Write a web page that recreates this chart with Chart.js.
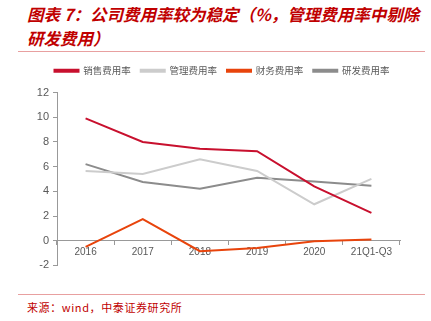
<!DOCTYPE html>
<html>
<head>
<meta charset="utf-8">
<script src="https://cdn.jsdelivr.net/npm/chart.js@4"></script>
<style>
  body { margin: 0; width: 431px; height: 321px; background: #fff; position: relative; overflow: hidden; }
  .title { position: absolute; left: 27px; top: 2px; width: 404px; white-space: nowrap; font-family: "Noto Sans CJK SC", sans-serif; font-style: italic; font-weight: bold; font-size: 16.5px; line-height: 24px; color: #c00000; }
  .rule { position: absolute; left: 18px; width: 407px; height: 1px; background: #e8a0a0; }
  .source { position: absolute; left: 27px; top: 299px; letter-spacing: 0.6px; font-family: "Noto Sans CJK SC", sans-serif; font-size: 11px; color: #c00000; }
  #wrap { position: absolute; left: 0; top: 56px; width: 431px; height: 220px; }
</style>
</head>
<body>
<div class="title">图表 7：公司费用率较为稳定（%，管理费用率中剔除<br>研发费用）</div>
<div class="rule" style="top:51px"></div>
<div id="wrap"><canvas id="chart"></canvas></div>
<div class="rule" style="top:294px"></div>
<div class="source">来源：wind，中泰证券研究所</div>
<script>
const categories = ["2016", "2017", "2018", "2019", "2020", "21Q1-Q3"];
const salesRate = [9.9, 8.0, 7.45, 7.25, 4.4, 2.25];
const adminRate = [5.65, 5.4, 6.6, 5.65, 2.95, 5.0];
const financeRate = [-0.5, 1.75, -0.85, -0.6, -0.05, 0.1];
const rdRate = [6.2, 4.75, 4.2, 5.1, 4.8, 4.45];
const yTicks = [-2, 0, 2, 4, 6, 8, 10, 12];

const line = (label, data, color) => ({
    label: label,
    data: data,
    borderColor: color,
    backgroundColor: color,
    borderWidth: 2,
    pointRadius: 0,
    tension: 0,
});

// leave a bit more room under the legend, and nudge it right
const legendTweak = {
    id: "legendTweak",
    beforeInit(chart) {
        const fit = chart.legend.fit;
        chart.legend.fit = function () {
            fit.bind(chart.legend)();
            this.height += 7;
        };
    },
    afterLayout(chart) {
        chart.legend.left += 22;
        chart.legend.right += 22;
    },
};

new Chart(document.getElementById("chart"), {
    type: "line",
    data: {
        labels: categories,
        datasets: [
            line("销售费用率", salesRate, "#c8102e"),
            line("管理费用率", adminRate, "#cccccc"),
            line("财务费用率", financeRate, "#e8440c"),
            line("研发费用率", rdRate, "#8c8c8c"),
        ],
    },
    plugins: [legendTweak],
    options: {
        responsive: true,
        maintainAspectRatio: false,
        animation: false,
        layout: { padding: { left: 0, right: 31, top: 0, bottom: 0 } },
        plugins: {
            tooltip: { enabled: false },
            legend: {
                position: "top",
                labels: {
                    boxWidth: 24,
                    boxHeight: 2,
                    padding: 10,
                    color: "#595959",
                    font: { family: "Noto Sans CJK SC", size: 9.5 },
                },
            },
        },
        scales: {
            x: {
                position: { y: 0 },
                offset: true,
                grid: { display: true, drawOnChartArea: false, offset: true, tickLength: 4, color: "#999" },
                border: { color: "#999" },
                ticks: { color: "#595959", font: { family: "Liberation Sans", size: 10 }, padding: 2, maxRotation: 0 },
            },
            y: {
                min: -2,
                max: 12,
                afterFit: (scale) => { scale.width = 57; },
                afterBuildTicks: (scale) => { scale.ticks = yTicks.map(v => ({ value: v })); },
                grid: { display: true, drawOnChartArea: false, tickLength: 4, color: "#999" },
                border: { color: "#999" },
                ticks: { color: "#595959", font: { family: "Liberation Sans", size: 11 }, padding: 4 },
            },
        },
    },
});
</script>
</body>
</html>
